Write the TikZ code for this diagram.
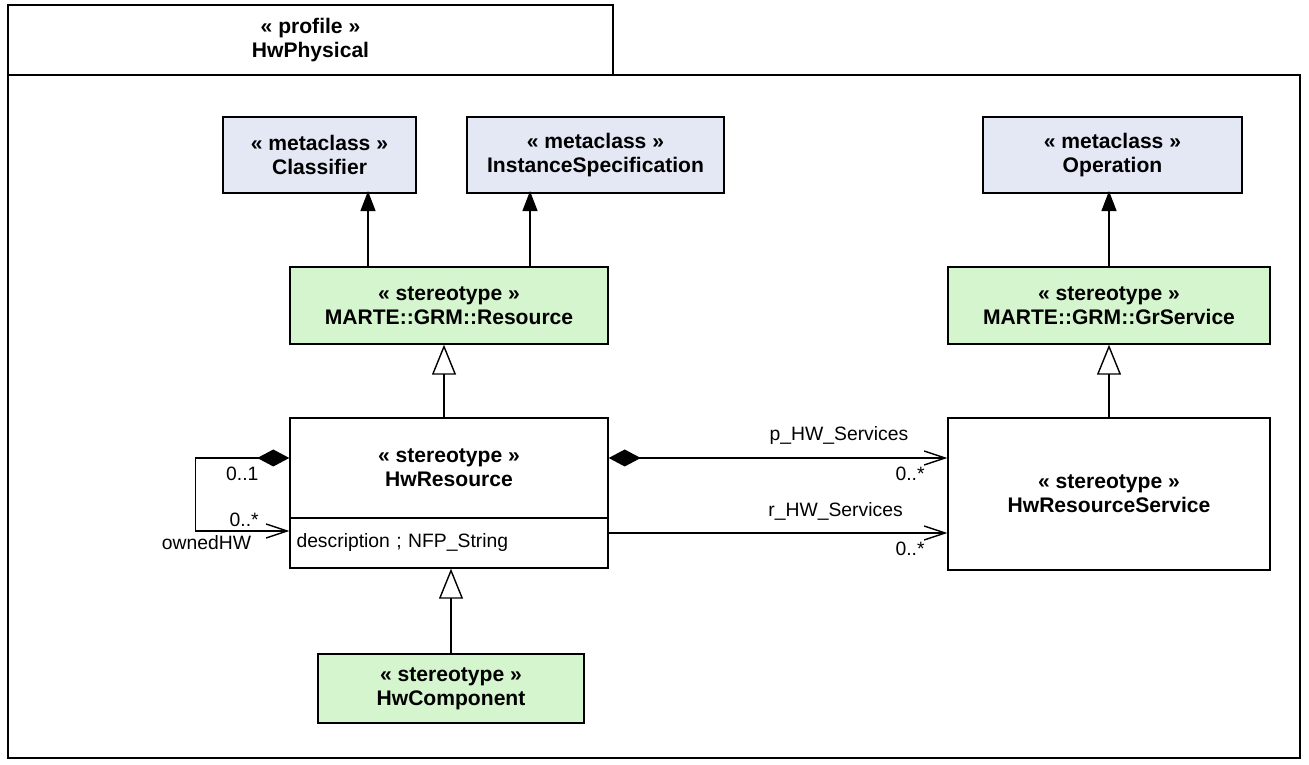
\documentclass[tikz,border=0pt]{standalone}
\usepackage{fontspec}
\setmainfont{Liberation Sans}
\usepackage{xcolor}
\usepackage{tikz}
\usetikzlibrary{arrows.meta,positioning}

\definecolor{metafill}{RGB}{228,232,244}
\definecolor{stereofill}{RGB}{212,245,206}

\begin{document}
\begin{tikzpicture}[
  cls/.style={draw,rectangle,thick,align=center,inner sep=2pt,
              font=\fontsize{12}{13.8}\selectfont\bfseries},
  meta/.style={cls,fill=metafill,minimum height=1.52cm},
  stereo/.style={cls,fill=stereofill},
  lbl/.style={font=\fontsize{11}{13}\selectfont,inner sep=1pt},
  ext/.style={-{Triangle[length=0.4cm,width=0.3cm]},thick,shorten >=-1.5pt},
  gen/.style={-{Triangle[open,fill=white,length=0.6cm,width=0.48cm]},thick},
  comp/.style={{Diamond[length=0.64cm,width=0.34cm]}-{Straight Barb[length=0.42cm,width=0.28cm]},thick},
  assoc/.style={-{Straight Barb[length=0.42cm,width=0.28cm]},thick}
]
\useasboundingbox (0,0) rectangle (26.18,15.30);
% Profile frame
\node[draw,thick,minimum width=12.10cm,minimum height=1.40cm,align=center,
      font=\fontsize{12}{13.8}\selectfont\bfseries] (tab) at (6.21,14.50)
    {« profile »\\HwPhysical};
\draw[thick] (0.16,13.80) rectangle (26.00,0.14);
% Metaclasses
\node[meta,minimum width=3.86cm] (Cls) at (6.39,12.20) {« metaclass »\\Classifier};
\node[meta,minimum width=5.14cm] (Inst) at (11.91,12.20) {« metaclass »\\InstanceSpecification};
\node[meta,minimum width=5.18cm] (Op) at (22.25,12.20) {« metaclass »\\Operation};
% MARTE stereotypes
\node[stereo,minimum width=6.36cm,minimum height=1.54cm] (Res) at (8.98,9.19)
    {« stereotype »\\MARTE::GRM::Resource};
\node[stereo,minimum width=6.44cm,minimum height=1.54cm] (GrSvc) at (22.18,9.19)
    {« stereotype »\\MARTE::GRM::GrService};
% HwPhysical stereotypes
\node[cls,minimum width=6.36cm,minimum height=2.0cm] (HwRes) at (8.98,5.94)
    {« stereotype »\\HwResource};
\node[draw,thick,minimum width=6.36cm,minimum height=1.0cm,text width=6.1cm,
      align=left,lbl,inner sep=2pt,below=-0.8pt of HwRes] (Attr)
    {description ; NFP\_String};
\node[cls,minimum width=6.44cm,minimum height=3.04cm] (HwSvc) at (22.18,5.42)
    {« stereotype »\\HwResourceService};
\node[stereo,minimum width=5.32cm,minimum height=1.38cm] (HwComp) at (9.02,1.53)
    {« stereotype »\\HwComponent};
% Extensions
\draw[ext] ([xshift=-1.62cm]Res.north) -- ([xshift=-1.62cm]Res.north |- Cls.south);
\draw[ext] ([xshift=1.62cm]Res.north) -- ([xshift=1.62cm]Res.north |- Inst.south);
\draw[ext] (GrSvc.north) -- (GrSvc.north |- Op.south);
% Generalizations
\draw[gen] ([xshift=-0.1cm]HwRes.north) -- ([xshift=-0.1cm]HwRes.north |- Res.south);
\draw[gen] (HwSvc.north) -- (HwSvc.north |- GrSvc.south);
\draw[gen] (HwComp.north) -- (HwComp.north |- Attr.south);
% Associations
\draw[comp] ([yshift=0.2cm]HwRes.east) -- ([yshift=0.2cm]HwRes.east -| HwSvc.west)
    node[lbl,above=6pt,pos=0.68] {p\_HW\_Services}
    node[lbl,below=4pt,pos=0.89] {0..*};
\draw[assoc] ([yshift=0.2cm]Attr.east) -- ([yshift=0.2cm]Attr.east -| HwSvc.west)
    node[lbl,above=6pt,pos=0.67] {r\_HW\_Services}
    node[lbl,below=4pt,pos=0.89] {0..*};
\draw[comp] ([yshift=0.2cm]HwRes.west) -- ++(-1.88,0)
    node[lbl,below=4pt,pos=0.5] {0..1}
    |- ([yshift=0.24cm]Attr.west)
    node[lbl,above=1pt,pos=0.76] {0..*}
    node[lbl,below=1pt,pos=0.56] {ownedHW};
\end{tikzpicture}
\end{document}
